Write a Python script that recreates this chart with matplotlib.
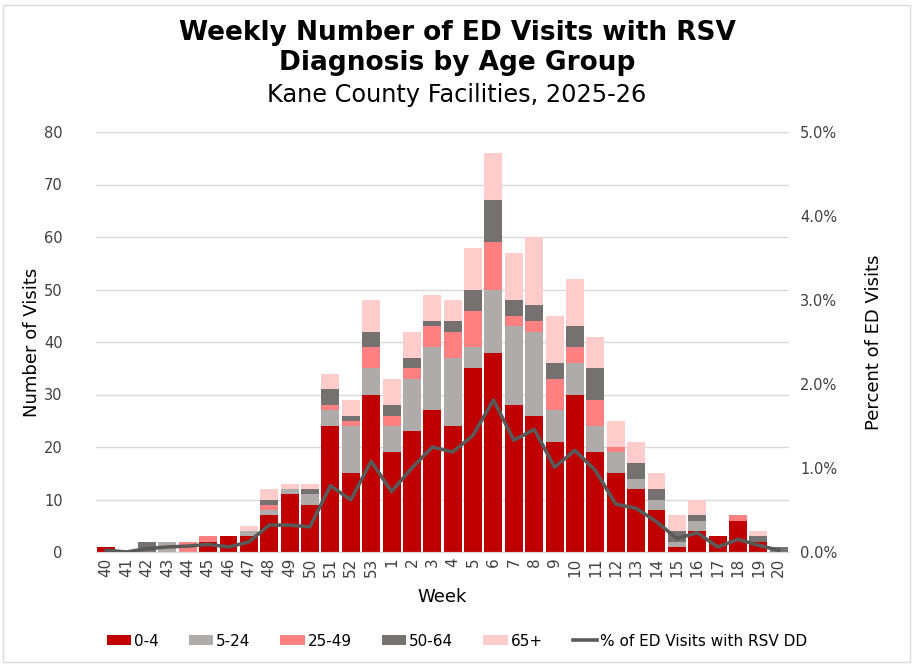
import matplotlib.pyplot as plt
import numpy as np
from matplotlib.patches import Rectangle
from matplotlib.ticker import FuncFormatter

plt.rcParams['font.family'] = 'DejaVu Sans'

weeks = ['40', '41', '42', '43', '44', '45', '46', '47', '48', '49', '50', '51', '52', '53',
         '1', '2', '3', '4', '5', '6', '7', '8', '9', '10', '11', '12', '13', '14', '15',
         '16', '17', '18', '19', '20']

# visits by age group per week
age_0_4 = [1, 0, 0, 0, 0, 2, 3, 3, 7, 11, 9, 24, 15, 30,
           19, 23, 27, 24, 35, 38, 28, 26, 21, 30, 19, 15, 12, 8, 1,
           4, 3, 6, 2, 0]
age_5_24 = [0, 0, 0, 2, 0, 0, 0, 1, 1, 1, 2, 3, 9, 5,
            5, 10, 12, 13, 4, 12, 15, 16, 6, 6, 5, 4, 2, 2, 1,
            2, 0, 0, 0, 0]
age_25_49 = [0, 0, 0, 0, 2, 1, 0, 0, 1, 0, 0, 1, 1, 4,
             2, 2, 4, 5, 7, 9, 2, 2, 6, 3, 5, 1, 0, 0, 0,
             0, 0, 1, 0, 0]
age_50_64 = [0, 0, 2, 0, 0, 0, 0, 0, 1, 0, 1, 3, 1, 3,
             2, 2, 1, 2, 4, 8, 3, 3, 3, 4, 6, 0, 3, 2, 2,
             1, 0, 0, 1, 1]
age_65 = [0, 0, 0, 0, 0, 0, 0, 1, 2, 1, 1, 3, 3, 6,
          5, 5, 5, 4, 8, 9, 9, 13, 9, 9, 6, 5, 4, 3, 3,
          3, 0, 0, 1, 0]

# percent of ED visits with RSV diagnosis
pct_rsv = [0.02, 0.0, 0.04, 0.06, 0.07, 0.09, 0.06, 0.12, 0.32, 0.32, 0.30, 0.79, 0.62, 1.08,
           0.72, 1.00, 1.25, 1.19, 1.39, 1.81, 1.33, 1.46, 1.01, 1.21, 0.97, 0.57, 0.52, 0.36, 0.16,
           0.23, 0.06, 0.15, 0.08, 0.02]

groups = [('0-4', age_0_4, '#C00000'),
          ('5-24', age_5_24, '#AFABAB'),
          ('25-49', age_25_49, '#FF8080'),
          ('50-64', age_50_64, '#767171'),
          ('65+', age_65, '#FFCCCC')]

fig = plt.figure(figsize=(9.14, 6.65), dpi=100)
ax = fig.add_axes([96 / 914, 1 - 552 / 665, 693 / 914, 420 / 665])
ax2 = ax.twinx()

x = np.arange(len(weeks))
bottom = np.zeros(len(weeks))
for label, vals, color in groups:
    ax.bar(x, vals, bottom=bottom, width=0.88, color=color, label=label, zorder=2)
    bottom += np.array(vals)

ax2.plot(x, pct_rsv, color='#595959', lw=2.6, label='% of ED Visits with RSV DD', zorder=3)

ax.set_xlim(-0.5, len(weeks) - 0.5)
ax.set_ylim(0, 80)
ax.set_yticks(range(0, 81, 10))
ax2.set_ylim(0, 5)
ax2.set_yticks(range(0, 6))
ax2.yaxis.set_major_formatter(FuncFormatter(lambda v, p: f'{v:.1f}%'))

ax.set_xticks(x)
ax.set_xticklabels(weeks, rotation=90, fontsize=11)
ax.tick_params(axis='y', labelsize=10.5, length=0, pad=24, colors='#404040')
ax2.tick_params(axis='y', labelsize=10.5, length=0, pad=8, colors='#404040')
ax.tick_params(axis='x', length=0, pad=4, colors='#404040')

ax.grid(axis='y', color='#D9D9D9', lw=1, zorder=0)
ax.set_axisbelow(True)
for a in (ax, ax2):
    for s in ('top', 'left', 'right'):
        a.spines[s].set_visible(False)
    a.spines['bottom'].set_color('#D9D9D9')

ax.set_xlabel('Week', fontsize=13, labelpad=8)
ax.set_ylabel('Number of Visits', fontsize=13, labelpad=2)
ax2.set_ylabel('Percent of ED Visits', fontsize=13, labelpad=20)

fig.text(0.5, 1 - 33 / 665, 'Weekly Number of ED Visits with RSV', ha='center', va='center',
         fontsize=19, fontweight='bold')
fig.text(0.5, 1 - 63 / 665, 'Diagnosis by Age Group', ha='center', va='center',
         fontsize=19, fontweight='bold')
fig.text(0.5, 1 - 95 / 665, 'Kane County Facilities, 2025-26', ha='center', va='center',
         fontsize=17.3)

h1, l1 = ax.get_legend_handles_labels()
h2, l2 = ax2.get_legend_handles_labels()
fig.legend(h1 + h2, l1 + l2, loc='center', bbox_to_anchor=(0.5, 1 - 641 / 665), ncol=6,
           frameon=False, fontsize=11, handlelength=1.6, handleheight=0.6,
           handletextpad=0.2, columnspacing=1.95)

fig.patches.append(Rectangle((3 / 914, 3 / 665), 907 / 914, 657 / 665,
                             transform=fig.transFigure, fill=False,
                             edgecolor='#D9D9D9', lw=1))

fig.savefig('out.png', dpi=100)
